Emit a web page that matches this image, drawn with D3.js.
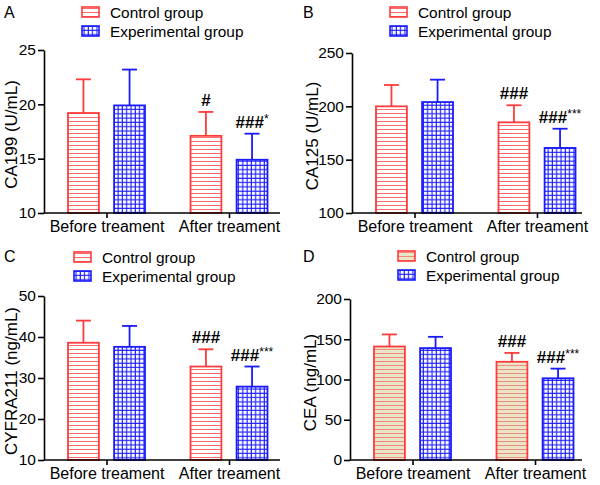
<!DOCTYPE html>
<html><head><meta charset="utf-8">
<script src="https://cdn.jsdelivr.net/npm/d3@7"></script>
<style>body{margin:0;background:#fff}svg{display:block}text{font-family:Arial,"Liberation Sans",sans-serif;fill:#000}</style>
</head><body><svg id="c" width="600" height="485"></svg>
<script>
const categories = ["Before treament", "After treament"];
const groups = ["Control group", "Experimental group"];
const panelLetters = ["A", "B", "C", "D"];
const yLabels = ["CA199 (U/mL)", "CA125 (U/mL)", "CYFRA211 (ng/mL)", "CEA (ng/mL)"];
const yTicksA = [10, 15, 20, 25];
const yTicksB = [100, 150, 200, 250];
const yTicksC = [10, 20, 30, 40, 50];
const yTicksD = [0, 50, 100, 150, 200];
const controlMeans = [[19.2, 17.1], [200, 185], [38.6, 32.8], [141, 122]];
const controlErr   = [[3.1, 2.2], [20, 16], [5.4, 4.2], [15, 11]];
const expMeans     = [[19.9, 14.9], [204, 161], [37.6, 27.9], [139, 101.5]];
const expErr       = [[3.3, 2.4], [21, 18], [5.1, 4.9], [14, 12]];
const controlHash  = [["", "#"], ["", "###"], ["", "###"], ["", "###"]];
const expHash      = [["", "###"], ["", "###"], ["", "###"], ["", "###"]];
const expStars     = [["", "*"], ["", "***"], ["", "***"], ["", "***"]];
const yTicks = [yTicksA, yTicksB, yTicksC, yTicksD];

const svg = d3.select("#c");
const RED = "#ff3b3b", BLUE = "#1a1aff";
const defs = svg.append("defs");
function stripe(id, bg, col) {
  const p = defs.append("pattern").attr("id", id).attr("patternUnits", "userSpaceOnUse")
    .attr("width", 8).attr("height", 4);
  p.append("rect").attr("width", 8).attr("height", 4).attr("fill", bg);
  p.append("rect").attr("x", 0).attr("y", 1).attr("width", 8).attr("height", 1).attr("fill", col);
}
stripe("ctrl", "#fff", "#ff6a6a");
stripe("ctrlD", "#e9e5c9", "#f28a7e");
{
  const s = 4.3;
  const p = defs.append("pattern").attr("id", "exp").attr("patternUnits", "userSpaceOnUse")
    .attr("width", s).attr("height", s);
  p.append("rect").attr("width", s).attr("height", s).attr("fill", "#fff");
  p.append("line").attr("x1", 0).attr("x2", s).attr("y1", 2).attr("y2", 2).attr("stroke", BLUE).attr("stroke-width", 1.1);
  p.append("line").attr("y1", 0).attr("y2", s).attr("x1", 2).attr("x2", 2).attr("stroke", BLUE).attr("stroke-width", 1.1);
}

const layout = [
  {x0: 44, x1: 280, yTop: 50, yBot: 213, lx: 82, ly: 7, letterX: 4, letterY: 18, labX: 17},
  {x0: 352, x1: 582, yTop: 53, yBot: 213, lx: 390, ly: 7, letterX: 303, letterY: 18, labX: 318},
  {x0: 44, x1: 280, yTop: 296, yBot: 460, lx: 74, ly: 252, letterX: 4, letterY: 262, labX: 17},
  {x0: 350, x1: 582, yTop: 299, yBot: 460, lx: 398, ly: 251, letterX: 303, letterY: 262, labX: 316}
];

layout.forEach((L, i) => {
  const g = svg.append("g");
  const ticks = yTicks[i];
  const y = d3.scaleLinear().domain([ticks[0], ticks[ticks.length - 1]]).range([L.yBot, L.yTop]);
  const x = d3.scalePoint().domain(categories).range([L.x0 + 62.5, L.x0 + 185]);
  const xi = d3.scaleBand().domain(groups).range([-38.5, 38.5]).paddingInner(0.33);
  const ctrlFill = i === 3 ? "url(#ctrlD)" : "url(#ctrl)";

  g.append("text").attr("x", L.letterX).attr("y", L.letterY).attr("font-size", 16).text(panelLetters[i]);
  const leg = g.append("g").attr("transform", `translate(${L.lx},${L.ly})`);
  groups.forEach((gr, k) => {
    leg.append("rect").attr("x", 0).attr("y", k * 19).attr("width", 17).attr("height", 10)
      .attr("fill", k === 0 ? ctrlFill : "url(#exp)").attr("stroke", k === 0 ? RED : BLUE).attr("stroke-width", 1.6);
    leg.append("text").attr("x", 28).attr("y", k * 19 + 10.5).attr("font-size", 15.4).text(gr);
  });

  const series = [
    {name: groups[0], means: controlMeans[i], errs: controlErr[i], fill: ctrlFill, stroke: RED},
    {name: groups[1], means: expMeans[i], errs: expErr[i], fill: "url(#exp)", stroke: BLUE}
  ];
  series.forEach(s => {
    categories.forEach((c, j) => {
      const bx = x(c) + xi(s.name);
      const cx = bx + xi.bandwidth() / 2;
      const top = y(s.means[j]), et = y(s.means[j] + s.errs[j]);
      g.append("line").attr("x1", cx).attr("x2", cx).attr("y1", top).attr("y2", et)
        .attr("stroke", s.stroke).attr("stroke-width", 1.8);
      g.append("line").attr("x1", cx - 7.5).attr("x2", cx + 7.5).attr("y1", et).attr("y2", et)
        .attr("stroke", s.stroke).attr("stroke-width", 1.8);
      g.append("rect").attr("x", bx).attr("y", top).attr("width", xi.bandwidth()).attr("height", L.yBot - top)
        .attr("fill", s.fill).attr("stroke", s.stroke).attr("stroke-width", 1.8);
    });
  });

  categories.forEach((c, j) => {
    const ch = controlHash[i][j];
    if (ch) {
      const cx = x(c) + xi(groups[0]) + xi.bandwidth() / 2;
      g.append("text").attr("x", cx).attr("y", y(controlMeans[i][j] + controlErr[i][j]) - 6)
        .attr("text-anchor", "middle").attr("font-size", 17).attr("font-weight", "bold").text(ch);
    }
    const eh = expHash[i][j];
    if (eh) {
      const cx = x(c) + xi(groups[1]) + xi.bandwidth() / 2;
      const t = g.append("text").attr("x", cx).attr("y", y(expMeans[i][j] + expErr[i][j]) - 6)
        .attr("text-anchor", "middle").attr("font-size", 17).attr("font-weight", "bold");
      t.append("tspan").text(eh);
      t.append("tspan").attr("font-size", 12).attr("font-weight", "normal").attr("dy", -5).text(expStars[i][j]);
    }
  });

  const ya = g.append("g").attr("transform", `translate(${L.x0},0)`)
    .call(d3.axisLeft(y).tickValues(ticks).tickSize(6).tickPadding(2).tickSizeOuter(0));
  ya.selectAll("text").attr("font-size", 15.5)
    .attr("font-family", "'Liberation Sans Narrow', 'Arial Narrow', Arial, sans-serif");
  ya.selectAll("line,path").attr("stroke-width", 1.6);
  const xa = g.append("g").attr("transform", `translate(0,${L.yBot})`)
    .call(d3.axisBottom(x).tickSize(5).tickPadding(3).tickSizeOuter(0));
  xa.select("path").attr("d", `M${L.x0},0H${L.x1}`);
  xa.selectAll("text").attr("font-size", 16).attr("font-family", "Arial, 'Liberation Sans', sans-serif");
  xa.selectAll("line,path").attr("stroke-width", 1.6);

  g.append("text").attr("transform", `translate(${L.labX},${(L.yTop + L.yBot) / 2 + 3}) rotate(-90)`)
    .attr("text-anchor", "middle").attr("font-size", 17).text(yLabels[i]);
});
</script></body></html>
